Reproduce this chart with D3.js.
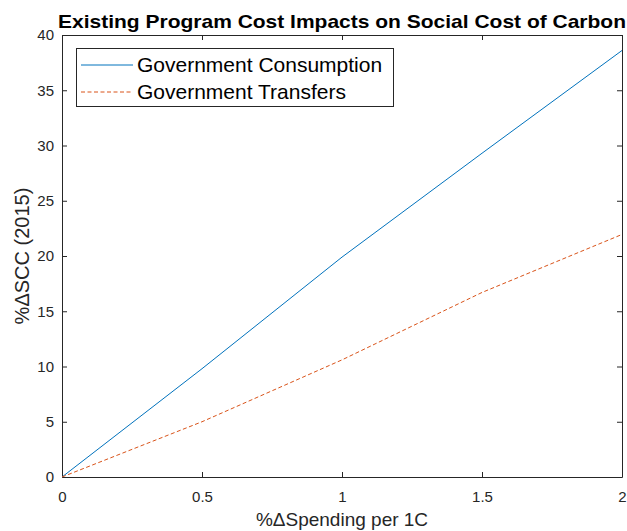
<!DOCTYPE html>
<html lang="en">
<head>
<meta charset="UTF-8">
<title>Existing Program Cost Impacts on Social Cost of Carbon</title>
<script src="https://cdn.jsdelivr.net/npm/d3@7"></script>
<style>
  body { margin: 0; background: #fff; }
  text { font-family: "Liberation Sans", Arial, Helvetica, sans-serif; }
</style>
</head>
<body>
<div id="chart"></div>
<script>
// Data
var spending = [0, 0.5, 1, 1.5, 2];
var consumption = [0, 9.8, 19.9, 29.3, 38.6];
var transfers = [0, 5.0, 10.6, 16.7, 21.95];
var xTicks = [0, 0.5, 1, 1.5, 2];
var yTicks = [0, 5, 10, 15, 20, 25, 30, 35, 40];

var width = 627, height = 531;
var margin = {top: 35, right: 5, bottom: 54, left: 62};
var innerW = width - margin.left - margin.right;
var innerH = height - margin.top - margin.bottom;

var svg = d3.select('#chart').append('svg')
    .attr('width', width)
    .attr('height', height);

var x = d3.scaleLinear().domain([0, 2]).range([0, innerW]);
var y = d3.scaleLinear().domain([0, 40]).range([innerH, 0]);

var g = svg.append('g').attr('transform', 'translate(' + margin.left + ',' + margin.top + ')');

var axisColor = '#262626';
var tickLen = 5;

// bottom axis (ticks inward, matlab style)
var xAxis = g.append('g')
    .attr('transform', 'translate(0,' + innerH + ')')
    .call(d3.axisBottom(x).tickValues(xTicks).tickSizeInner(-tickLen).tickSizeOuter(0).tickPadding(14)
        .tickFormat(d3.format('')));
// top axis
var xAxisTop = g.append('g')
    .call(d3.axisTop(x).tickValues(xTicks).tickSizeInner(-tickLen).tickSizeOuter(0).tickFormat(''));
// left axis
var yAxis = g.append('g')
    .call(d3.axisLeft(y).tickValues(yTicks).tickSizeInner(-tickLen).tickSizeOuter(0).tickPadding(8));
// right axis
var yAxisRight = g.append('g')
    .attr('transform', 'translate(' + innerW + ',0)')
    .call(d3.axisRight(y).tickValues(yTicks).tickSizeInner(-tickLen).tickSizeOuter(0).tickFormat(''));

[xAxis, xAxisTop, yAxis, yAxisRight].forEach(function(a) {
    a.select('.domain').attr('stroke', axisColor).attr('stroke-width', 1);
    a.selectAll('.tick line').attr('stroke', axisColor);
    a.selectAll('.tick text')
        .attr('fill', axisColor)
        .style('font-size', '15px');
});

// lines
var line = function(vals) {
    return d3.line()
        .x(function(d, i) { return x(spending[i]); })
        .y(function(d) { return y(d); })(vals);
};

g.append('path')
    .attr('d', line(consumption))
    .attr('fill', 'none')
    .attr('stroke', '#0072BD')
    .attr('stroke-width', 1);

g.append('path')
    .attr('d', line(transfers))
    .attr('fill', 'none')
    .attr('stroke', '#D95319')
    .attr('stroke-width', 1)
    .attr('stroke-dasharray', '4,2.5');

// legend
var legend = svg.append('g');
legend.append('rect')
    .attr('x', 76.5).attr('y', 48.5)
    .attr('width', 317).attr('height', 58)
    .attr('fill', '#fff')
    .attr('stroke', axisColor)
    .attr('stroke-width', 1);

var legendItems = [
    {label: 'Government Consumption', color: '#0072BD', dash: null},
    {label: 'Government Transfers', color: '#D95319', dash: '4,2.5'}
];
legendItems.forEach(function(item, i) {
    var yy = 65 + i * 27;
    legend.append('line')
        .attr('x1', 81).attr('x2', 133)
        .attr('y1', yy).attr('y2', yy)
        .attr('stroke', item.color)
        .attr('stroke-width', 1)
        .attr('stroke-dasharray', item.dash);
    legend.append('text')
        .attr('x', 137).attr('y', yy)
        .attr('dy', '0.35em')
        .attr('fill', '#000')
        .style('font-size', '21px')
        .text(item.label);
});

// title
svg.append('text')
    .attr('x', margin.left + innerW / 2)
    .attr('y', 28)
    .attr('text-anchor', 'middle')
    .attr('textLength', 568)
    .attr('lengthAdjust', 'spacingAndGlyphs')
    .style('font-size', '19px')
    .style('font-weight', 'bold')
    .attr('fill', '#000')
    .text('Existing Program Cost Impacts on Social Cost of Carbon');

// axis labels
svg.append('text')
    .attr('x', margin.left + innerW / 2)
    .attr('y', 526)
    .attr('text-anchor', 'middle')
    .attr('fill', axisColor)
    .style('font-size', '19px')
    .text('%\u0394Spending per 1C');

svg.append('text')
    .attr('transform', 'translate(29,' + (margin.top + innerH / 2) + ') rotate(-90)')
    .attr('text-anchor', 'middle')
    .attr('fill', axisColor)
    .style('font-size', '20px')
    .text('%\u0394SCC (2015)');
</script>
</body>
</html>
